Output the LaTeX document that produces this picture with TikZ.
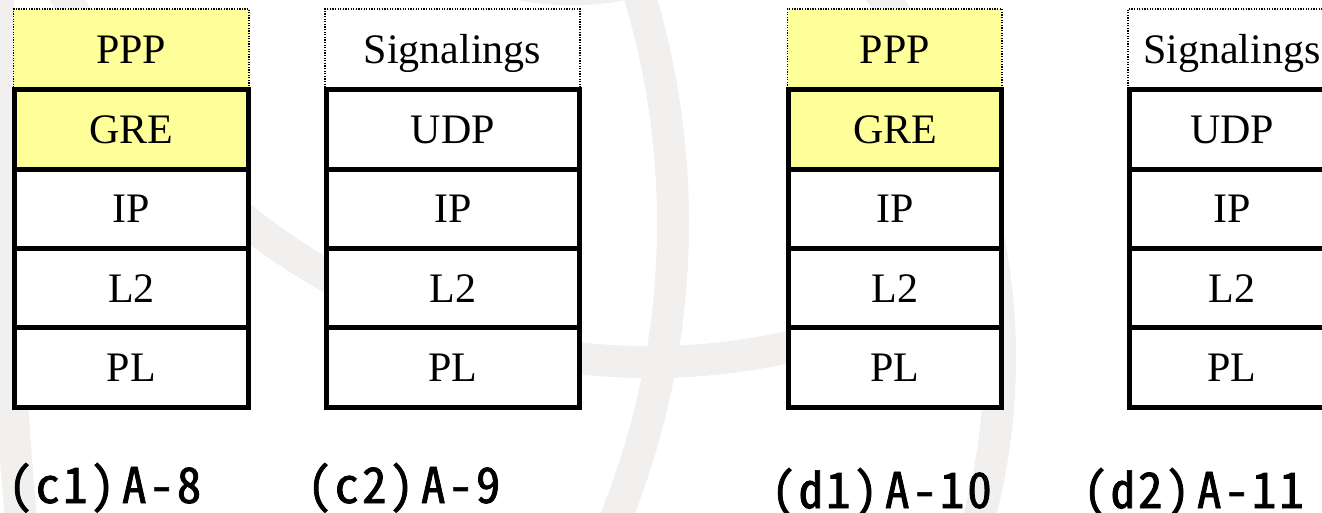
\documentclass[tikz,border=0pt]{standalone}
\usepackage{fontspec}
\setmainfont{Liberation Serif}
\newfontfamily\captionfont[RawFeature=+hwid, LetterSpace=6, FakeBold=1.5]{Noto Sans CJK JP}
\definecolor{layeryellow}{RGB}{255,255,153}
\definecolor{watermark}{RGB}{241,240,238}
\begin{document}
\begin{tikzpicture}[x=1pt,y=-1pt,
  layer/.style={draw=black, line width=5pt, fill=white, inner sep=0pt, outer sep=0pt,
    minimum height=79.25pt, text height=28pt, text depth=0pt,
    font=\fontsize{42}{48}\selectfont},
  toplayer/.style={draw=black, line width=1.3pt, dash pattern=on 1.3pt off 1.3pt,
    inner sep=0pt, outer sep=0pt, minimum height=81pt, text height=28pt, text depth=0pt,
    font=\fontsize{42}{48}\selectfont},
  caption/.style={inner sep=0pt, anchor=base west,
    font=\captionfont\fontsize{49}{56}\selectfont},
  wm/.style={draw=watermark, line width=32pt}
]
\useasboundingbox (0,0) rectangle (1322,513);
\clip (0,0) rectangle (1322,513);

% faint background globe strokes
\draw[wm] (-113,223) circle[radius=786];
\draw[wm] (383,358) circle[radius=617];
\draw[wm] ([shift={(160:649)}]650,-287) arc[start angle=160, end angle=75, radius=649];
\draw[wm] (-2,-10) .. controls (0,150) and (5,350) .. (22,530);
\draw[wm] (510,-18) .. controls (550,-8) and (600,-8) .. (640,-20);

% protocol stacks
\foreach \n/\cx/\w/\ta/\tb/\tint in {
    c1/131.5/234/PPP/GRE/layeryellow,
    c2/452.75/253.5/Signalings/UDP/white,
    d1/895.1/212.8/PPP/GRE/layeryellow,
    d2/1232/206/Signalings/UDP/white}{
  \node[toplayer, fill=\tint, minimum width={(\w+1.5)*1pt}] (\n-top) at (\cx-0.25,49.5) {\ta};
  \node[layer, fill=\tint, minimum width={\w*1pt}] (\n-two) at (\cx,129.6) {\tb};
  \node[layer, minimum width={\w*1pt}] (\n-ip) at (\cx,208.9) {IP};
  \node[layer, minimum width={\w*1pt}] (\n-ltwo) at (\cx,288.1) {L2};
  \node[layer, minimum width={\w*1pt}] (\n-pl) at (\cx,367.4) {PL};
}

% captions
\node[caption] (c1-cap) at (8,503) {(c1)\kern7pt A-8};
\node[caption] (c2-cap) at (307,503) {(c2)\kern7pt A-9};
\node[caption] (d1-cap) at (771,508) {(d1)\kern7pt A-10};
\node[caption] (d2-cap) at (1083,508) {(d2)\kern7pt A-11};
\end{tikzpicture}
\end{document}
